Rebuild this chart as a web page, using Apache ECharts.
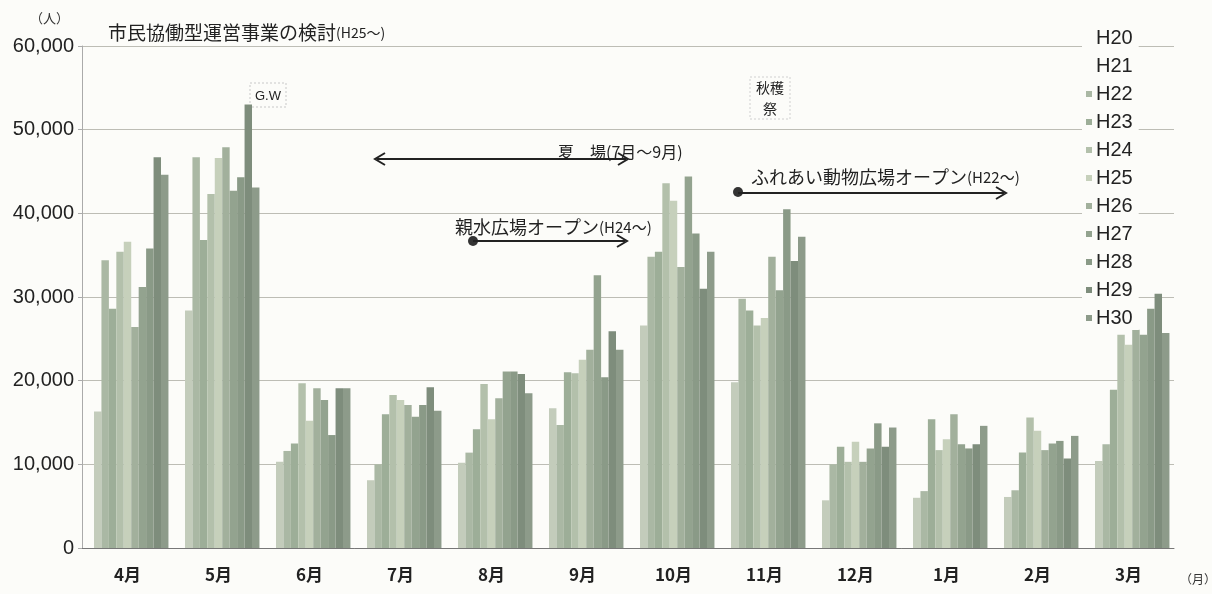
<!DOCTYPE html>
<html>
<head>
<meta charset="utf-8">
<title>月別入園者数</title>
<script src="https://cdn.jsdelivr.net/npm/echarts@6/dist/echarts.min.js"></script>
<style>
    html, body { margin: 0; padding: 0; background: #fcfcf9; }
    #main { width: 1212px; height: 594px; }
</style>
</head>
<body>
<div id="main"></div>
<script>
    // 月（年度順）
    var months = ['4月', '5月', '6月', '7月', '8月', '9月', '10月', '11月', '12月', '1月', '2月', '3月'];
    var years = ['H20', 'H21', 'H22', 'H23', 'H24', 'H25', 'H26', 'H27', 'H28', 'H29', 'H30'];
    var yTicks = [0, 10000, 20000, 30000, 40000, 50000, 60000];

    // 入園者数（人）
    var h20 = [null, null, null, null, null, null, null, null, null, null, null, null];
    var h21 = [16300, 28400, 10300, 8100, 10200, 16700, 26600, 19800, 5700, 6000, 6100, 10400];
    var h22 = [34400, 46700, 11600, 10000, 11400, 14700, 34800, 29800, 10000, 6800, 6900, 12400];
    var h23 = [28600, 36800, 12500, 16000, 14200, 21000, 35400, 28400, 12100, 15400, 11400, 18900];
    var h24 = [35400, 42300, 19700, 18300, 19600, 20900, 43600, 26600, 10300, 11700, 15600, 25500];
    var h25 = [36600, 46600, 15200, 17700, 15400, 22500, 41500, 27500, 12700, 13000, 14000, 24300];
    var h26 = [26400, 47900, 19100, 17100, 17900, 23700, 33600, 34800, 10300, 16000, 11700, 26100];
    var h27 = [31200, 42700, 17700, 15700, 21100, 32600, 44400, 30800, 11900, 12400, 12500, 25500];
    var h28 = [35800, 44300, 13500, 17100, 21100, 20400, 37600, 40500, 14900, 11900, 12800, 28600];
    var h29 = [46700, 53000, 19100, 19200, 20800, 25900, 31000, 34300, 12100, 12400, 10700, 30400];
    var h30 = [44600, 43100, 19100, 16400, 18500, 23700, 35400, 37200, 14400, 14600, 13400, 25700];

    var seriesData = [h20, h21, h22, h23, h24, h25, h26, h27, h28, h29, h30];
    var barColors = ['#dfe4da', '#c3ccbb', '#aab8a4', '#9dae98', '#b3c0ab', '#c6d0bb',
        '#a2b09c', '#93a38f', '#8a9a87', '#7e8d7c', '#8d9b8a'];

    var FONT = "'Liberation Sans', 'Noto Sans CJK JP', sans-serif";
    var JP = "'Noto Sans CJK JP', sans-serif";

    function head(x, y, dir) {
        return {
            type: 'polyline',
            shape: { points: [[x - dir * 10, y - 6], [x, y], [x - dir * 10, y + 6]] },
            style: { stroke: '#222', lineWidth: 2, fill: null }
        };
    }
    function line(x1, x2, y) {
        return { type: 'line', shape: { x1: x1, y1: y, x2: x2, y2: y }, style: { stroke: '#222', lineWidth: 2 } };
    }
    function dot(x, y) {
        return { type: 'circle', shape: { cx: x, cy: y, r: 5 }, style: { fill: '#333' } };
    }
    function label(x, y, main, sub, size, subSize) {
        return {
            type: 'text',
            style: {
                x: x, y: y, verticalAlign: 'middle',
                text: '{a|' + main + '}' + (sub ? '{b|' + sub + '}' : ''),
                rich: {
                    a: { fontFamily: JP, fontSize: size, fill: '#222' },
                    b: { fontFamily: JP, fontSize: subSize, fill: '#222' }
                }
            }
        };
    }

    var chart = echarts.init(document.getElementById('main'));
    chart.setOption({
        animation: false,
        backgroundColor: '#fcfcf9',
        grid: { left: 82, right: 38, top: 46, bottom: 46 },
        legend: {
            orient: 'vertical',
            left: 1082,
            top: 26,
            padding: [2, 6, 2, 4],
            backgroundColor: '#fcfcf9',
            itemGap: 8,
            itemWidth: 6,
            itemHeight: 6,
            icon: 'rect',
            textStyle: { fontFamily: FONT, fontSize: 20, color: '#222', lineHeight: 20, padding: [0, 0, 0, -1] },
            data: years.map(function (n, i) {
                return i < 2 ? { name: n, itemStyle: { opacity: 0 } } : n;
            })
        },
        xAxis: {
            type: 'category',
            data: months,
            axisLine: { lineStyle: { color: '#777' } },
            axisTick: { length: 5, lineStyle: { color: '#777' } },
            axisLabel: { fontFamily: JP, fontSize: 17, fontWeight: 'bold', color: '#222', margin: 18 }
        },
        yAxis: {
            type: 'value',
            min: yTicks[0],
            max: yTicks[yTicks.length - 1],
            interval: yTicks[1] - yTicks[0],
            axisLine: { show: true, lineStyle: { color: '#aaa' } },
            axisTick: { show: true, length: 4, lineStyle: { color: '#aaa' } },
            splitLine: { lineStyle: { color: '#bdbdb5' } },
            axisLabel: {
                fontFamily: FONT, fontSize: 20, color: '#222', margin: 8,
                formatter: function (v) { return v.toLocaleString('en-US'); }
            }
        },
        series: years.map(function (name, i) {
            return {
                name: name,
                type: 'bar',
                data: seriesData[i],
                barGap: '0%',
                barCategoryGap: '10%',
                itemStyle: { color: barColors[i] }
            };
        }),
        graphic: [
            { type: 'text', style: { x: 30, y: 18, verticalAlign: 'middle', text: '（人）', fontFamily: JP, fontSize: 13, fill: '#333' } },
            { type: 'text', style: { x: 1180, y: 579, verticalAlign: 'middle', text: '（月）', fontFamily: JP, fontSize: 12, fill: '#333' } },
            label(108, 33, '市民協働型運営事業の検討', '(H25〜)', 19, 14),
            // G.W
            { type: 'rect', shape: { x: 250, y: 83, width: 36, height: 24 }, style: { fill: '#fcfcf9', stroke: '#c8c8c8', lineDash: [2, 2], lineWidth: 1 } },
            { type: 'text', style: { x: 268, y: 96, align: 'center', verticalAlign: 'middle', text: 'G.W', fontFamily: FONT, fontSize: 13, fill: '#222' } },
            // 秋穫祭
            { type: 'rect', shape: { x: 750, y: 77, width: 40, height: 42 }, style: { fill: '#fcfcf9', stroke: '#d0d0d0', lineDash: [2, 2], lineWidth: 1 } },
            { type: 'text', style: { x: 770, y: 88, align: 'center', verticalAlign: 'middle', text: '秋穫', fontFamily: JP, fontSize: 14, fill: '#222' } },
            { type: 'text', style: { x: 770, y: 109, align: 'center', verticalAlign: 'middle', text: '祭', fontFamily: JP, fontSize: 14, fill: '#222' } },
            // 夏場
            line(377, 626, 159), head(375, 159, -1), head(628, 159, 1),
            label(558, 152, '夏　場', '(7月〜9月)', 16, 16),
            // 親水広場
            label(455, 227, '親水広場オープン', '(H24〜)', 18, 15),
            dot(473, 241), line(473, 625, 241), head(627, 241, 1),
            // ふれあい動物広場
            label(751, 177, 'ふれあい動物広場オープン', '(H22〜)', 18, 15),
            dot(738, 192), line(738, 1004, 193), head(1006, 193, 1)
        ]
    });
</script>
</body>
</html>
